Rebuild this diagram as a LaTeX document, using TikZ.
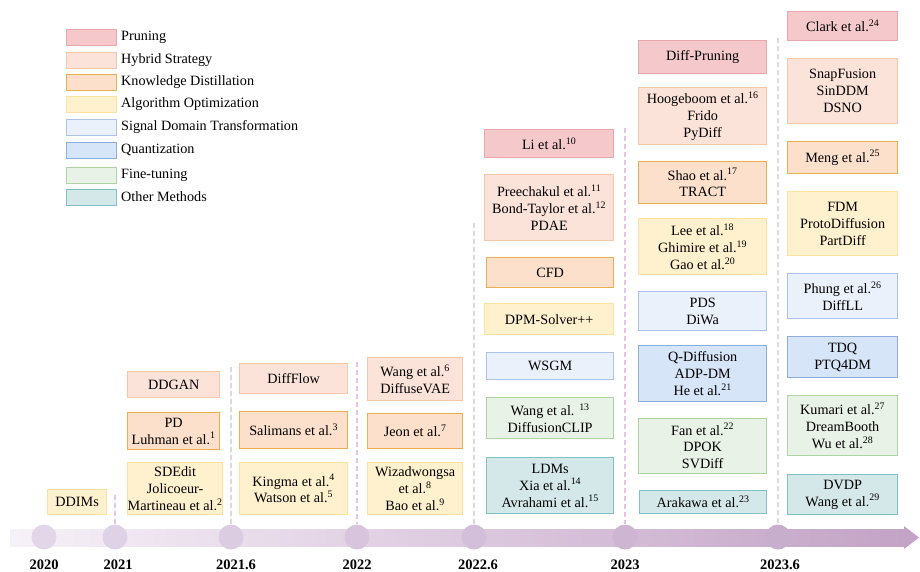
\documentclass[tikz,border=0pt]{standalone}
\usepackage{fontspec}
\setmainfont{Liberation Serif}

% category colours: fill (F) and border (D)
\definecolor{prF}{HTML}{F5C9CB} \definecolor{prD}{HTML}{E8A7AA}
\definecolor{hyF}{HTML}{FBE3D9} \definecolor{hyD}{HTML}{F8C6A8}
\definecolor{kdF}{HTML}{FCE0CB} \definecolor{kdD}{HTML}{E9B04C}
\definecolor{aoF}{HTML}{FFF1CD} \definecolor{aoD}{HTML}{FDE29E}
\definecolor{sdF}{HTML}{EBF1FB} \definecolor{sdD}{HTML}{AAC3E7}
\definecolor{quF}{HTML}{D7E5F8} \definecolor{quD}{HTML}{8FADDC}
\definecolor{ftF}{HTML}{E9F2E6} \definecolor{ftD}{HTML}{AFD4A4}
\definecolor{otF}{HTML}{D4E7E9} \definecolor{otD}{HTML}{7FC1C7}
% timeline colours
\definecolor{tlL}{HTML}{F6F1F8}
\definecolor{tlR}{HTML}{C3A3C6}
\definecolor{dotL}{HTML}{E3D6E9}
\definecolor{dotR}{HTML}{C8AECD}
\definecolor{guidePink}{HTML}{E3C6E3}
\definecolor{guideGray}{HTML}{DADADA}

\newcommand{\refnum}[1]{\textsuperscript{#1}}

\tikzset{
  every node/.style={font=\fontsize{14.2}{16.8}\selectfont, align=center, inner sep=0pt},
  cell/.style 2 args={draw, line width=1.3pt, minimum width=#1pt, minimum height=#2pt, anchor=north west},
  swatch/.style={draw, line width=1.3pt, minimum width=50pt, minimum height=16pt, anchor=north west},
  legtext/.style={anchor=west},
  prune/.style={fill=prF, draw=prD},
  hybrid/.style={fill=hyF, draw=hyD},
  kd/.style={fill=kdF, draw=kdD},
  algo/.style={fill=aoF, draw=aoD},
  signal/.style={fill=sdF, draw=sdD},
  quant/.style={fill=quF, draw=quD},
  fine/.style={fill=ftF, draw=ftD},
  other/.style={fill=otF, draw=otD},
  dot/.style={circle, minimum size=25pt, inner sep=0pt},
  year/.style={font=\fontsize{14.5}{16}\selectfont\bfseries, anchor=base},
  guide/.style={dashed, dash pattern=on 5pt off 3pt, line width=1.8pt},
}

\begin{document}
\begin{tikzpicture}[x=1pt, y=-1pt]
\useasboundingbox (0,0) rectangle (920,571);

% ---- legend ----
\node[swatch, prune]  (lg1) at (66,29)  {}; \node[legtext] (lt1) at (121,37)  {Pruning};
\node[swatch, hybrid] (lg2) at (66,52)  {}; \node[legtext] (lt2) at (121,60)  {Hybrid Strategy};
\node[swatch, kd]     (lg3) at (66,74)  {}; \node[legtext] (lt3) at (121,82)  {Knowledge Distillation};
\node[swatch, algo]   (lg4) at (66,96)  {}; \node[legtext] (lt4) at (121,104) {Algorithm Optimization};
\node[swatch, signal] (lg5) at (66,119) {}; \node[legtext] (lt5) at (121,127) {Signal Domain Transformation};
\node[swatch, quant]  (lg6) at (66,142) {}; \node[legtext] (lt6) at (121,150) {Quantization};
\node[swatch, fine]   (lg7) at (66,167) {}; \node[legtext] (lt7) at (121,175) {Fine-tuning};
\node[swatch, other]  (lg8) at (66,189) {}; \node[legtext] (lt8) at (121,197) {Other Methods};

% ---- timeline band and arrow ----
\fill[left color=tlL, right color=tlR] (10,529) rectangle (906,546);
\fill[tlR] (904,526) -- (919,537.5) -- (904,549) -- cycle;

% ---- milestones ----
\node[dot, fill=dotL]               (t2020) at (44,537)  {};
\node[dot, fill=dotR!10!dotL]       (t2021) at (115,537) {};
\node[dot, fill=dotR!25!dotL]       (t2021h) at (231,537) {};
\node[dot, fill=dotR!42!dotL]       (t2022) at (357,537) {};
\node[dot, fill=dotR!58!dotL]       (t2022h) at (474,537) {};
\node[dot, fill=dotR!79!dotL]       (t2023) at (625,537) {};
\node[dot, fill=dotR]               (t2023h) at (778,537) {};

\node[year] (y2020) at (44,569)  {2020};
\node[year] (y2021) at (118,569) {2021};
\node[year] (y2021h) at (236,569) {2021.6};
\node[year] (y2022) at (357,569) {2022};
\node[year] (y2022h) at (478,569) {2022.6};
\node[year] (y2023) at (625,569) {2023};
\node[year] (y2023h) at (780,569) {2023.6};

% ---- dashed guides from each period down to its milestone ----
\coordinate (g2021)  at (115,495);
\coordinate (g2021h) at (231,367);
\coordinate (g2022)  at (357,362);
\coordinate (g2022h) at (474,223);
\coordinate (g2023)  at (625,128);
\coordinate (g2023h) at (778,38);
\draw[guide, guidePink] (g2021)  -- (t2021.north);
\draw[guide, guideGray] (g2021h) -- (t2021h.north);
\draw[guide, guidePink] (g2022)  -- (t2022.north);
\draw[guide, guideGray] (g2022h) -- (t2022h.north);
\draw[guide, guidePink] (g2023)  -- (t2023.north);
\draw[guide, guideGray] (g2023h) -- (t2023h.north);

% ---- 2020 ----
\node[cell={59}{25}, algo] (ddims) at (47,489) {DDIMs};

% ---- 2021 ----
\node[cell={92}{26}, hybrid] (ddgan) at (127,371) {DDGAN};
\node[cell={92}{37}, kd]     (pd)    at (127,412) {PD\\Luhman et al.\refnum{1}};
\node[cell={92}{52}, algo]   (sdedit) at (127,462) {SDEdit\\Jolicoeur-\\Martineau et al.\refnum{2}};

% ---- 2021.6 ----
\node[cell={108}{30}, hybrid] (diffflow) at (239,363) {DiffFlow};
\node[cell={108}{37}, kd]     (salimans) at (239,411) {Salimans et al.\refnum{3}};
\node[cell={108}{52}, algo]   (kingma)   at (239,462) {Kingma et al.\refnum{4}\\Watson et al.\refnum{5}};

% ---- 2022 ----
\node[cell={95}{43}, hybrid] (wang6) at (367,357) {Wang et al.\refnum{6}\\DiffuseVAE};
\node[cell={95}{35}, kd]     (jeon)  at (367,413) {Jeon et al.\refnum{7}};
\node[cell={95}{52}, algo]   (wizad) at (367,462) {Wizadwongsa\\et al.\refnum{8}\\Bao et al.\refnum{9}};

% ---- 2022.6 ----
\node[cell={129}{28}, prune]  (li)      at (484,129) {Li et al.\refnum{10}};
\node[cell={129}{66}, hybrid] (preech)  at (484,174) {Preechakul et al.\refnum{11}\\Bond-Taylor et al.\refnum{12}\\PDAE};
\node[cell={127}{30}, kd]     (cfd)     at (486,257) {CFD};
\node[cell={129}{31}, algo]   (dpm)     at (484,303) {DPM-Solver++};
\node[cell={127}{27}, signal] (wsgm)    at (486,352) {WSGM};
\node[cell={127}{41}, fine]   (wang13)  at (486,397) {Wang et al. \refnum{13}\\DiffusionCLIP};
\node[cell={127}{56}, other]  (ldms)    at (486,457) {LDMs\\Xia et al.\refnum{14}\\Avrahami et al.\refnum{15}};

% ---- 2023 ----
\node[cell={128}{33}, prune]  (diffprune) at (638,40)  {Diff-Pruning};
\node[cell={128}{57}, hybrid] (hoog)      at (638,87)  {Hoogeboom et al.\refnum{16}\\Frido\\PyDiff};
\node[cell={128}{42}, kd]     (shao)      at (638,161) {Shao et al.\refnum{17}\\TRACT};
\node[cell={128}{56}, algo]   (lee)       at (638,218) {Lee et al.\refnum{18}\\Ghimire et al.\refnum{19}\\Gao et al.\refnum{20}};
\node[cell={128}{39}, signal] (pds)       at (638,291) {PDS\\DiWa};
\node[cell={128}{56}, quant]  (qdiff)     at (638,345) {Q-Diffusion\\ADP-DM\\He et al.\refnum{21}};
\node[cell={128}{55}, fine]   (fan)       at (638,418) {Fan et al.\refnum{22}\\DPOK\\SVDiff};
\node[cell={127}{23}, other]  (arakawa)   at (639,490) {Arakawa et al.\refnum{23}};

% ---- 2023.6 ----
\node[cell={110}{29}, prune]  (clark)  at (787,11)  {Clark et al.\refnum{24}};
\node[cell={110}{65}, hybrid] (snap)   at (787,58)  {SnapFusion\\SinDDM\\DSNO};
\node[cell={110}{32}, kd]     (meng)   at (787,141) {Meng et al.\refnum{25}};
\node[cell={110}{64}, algo]   (fdm)    at (787,191) {FDM\\ProtoDiffusion\\PartDiff};
\node[cell={110}{45}, signal] (phung)  at (787,273) {Phung et al.\refnum{26}\\DiffLL};
\node[cell={110}{41}, quant]  (tdq)    at (787,336) {TDQ\\PTQ4DM};
\node[cell={110}{60}, fine]   (kumari) at (787,395) {Kumari et al.\refnum{27}\\DreamBooth\\Wu et al.\refnum{28}};
\node[cell={110}{40}, other]  (dvdp)   at (787,474) {DVDP\\Wang et al.\refnum{29}};

\end{tikzpicture}
\end{document}
